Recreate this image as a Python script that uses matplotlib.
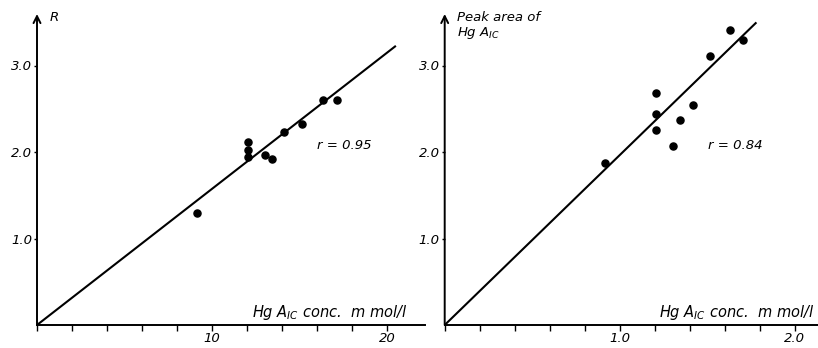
import matplotlib
matplotlib.use("Agg")
import matplotlib.pyplot as plt

# Datos
r_x = [9.13, 12.07, 12.07, 12.07, 13.03, 13.41, 14.11, 15.12, 16.32, 17.16]
r_y = [1.29, 2.12, 2.02, 1.94, 1.97, 1.92, 2.23, 2.32, 2.60, 2.60]
r_fit_x = [0, 20.46]
r_fit_y = [0, 3.22]

pk_x = [0.918, 1.209, 1.209, 1.209, 1.305, 1.343, 1.421, 1.514, 1.630, 1.705]
pk_y = [1.87, 2.68, 2.44, 2.25, 2.07, 2.37, 2.54, 3.11, 3.41, 3.29]
pk_fit_x = [0, 1.777]
pk_fit_y = [0, 3.49]

x_ticks_left = [0, 2, 4, 6, 8, 10, 12, 14, 16, 18, 20]
x_labels_left = ['', '', '', '', '', '10', '', '', '', '', '20']
x_ticks_right = [0, 0.2, 0.4, 0.6, 0.8, 1.0, 1.2, 1.4, 1.6, 1.8, 2.0]
x_labels_right = ['', '', '', '', '', '1.0', '', '', '', '', '2.0']
y_ticks = [1.0, 2.0, 3.0]
y_labels = ['1.0', '2.0', '3.0']

plt.rcParams['mathtext.fontset'] = 'dejavusans'

W, H = 818, 348
fig = plt.figure(figsize=(W / 100, H / 100), dpi=100)

y0_px, ytop_px = 325, 14
ymax = (y0_px - ytop_px) / 86.5


def panel(left_px, right_px, px_per_unit, xs, ys, fx, fy, xt, xl, rtxt, rpos, ylab, xlab_right):
    ax = fig.add_axes([left_px / W, (H - y0_px) / H,
                       (right_px - left_px) / W, (y0_px - ytop_px) / H])
    ax.set_xlim(0, (right_px - left_px) / px_per_unit)
    ax.set_ylim(0, ymax)
    for s in ['top', 'right', 'left']:
        ax.spines[s].set_visible(False)
    ax.spines['bottom'].set_linewidth(1.4)
    # eje y con flecha
    ax.annotate('', xy=(0, ymax), xytext=(0, 0),
                arrowprops=dict(arrowstyle='->,head_length=0.5,head_width=0.25',
                                lw=1.4, color='black', shrinkA=0, shrinkB=0),
                annotation_clip=False)
    ax.plot(fx, fy, color='black', lw=1.5)
    ax.scatter(xs, ys, s=26, color='black', zorder=3)
    ax.set_xticks(xt)
    ax.set_xticklabels(xl, style='italic', fontsize=9.5)
    ax.set_yticks(y_ticks)
    ax.set_yticklabels(y_labels, style='italic', fontsize=9.5)
    ax.tick_params(axis='x', direction='out', length=4, width=1, pad=1)
    ax.tick_params(axis='y', direction='out', length=2.5, width=1, pad=1)
    ax.text(rpos[0], rpos[1], rtxt, style='italic', fontsize=9.5, va='center')
    ax.text(xlab_right, 0.01, r'Hg $A_{IC}$ conc.  m mol/l',
            transform=ax.transAxes, ha='right', va='bottom', style='italic', fontsize=10.5)
    ax.text(0.032, 1.01, ylab, transform=ax.transAxes,
            ha='left', va='top', style='italic', fontsize=9.5, linespacing=1.1)
    return ax


panel(37, 425, 17.5, r_x, r_y, r_fit_x, r_fit_y, x_ticks_left, x_labels_left,
      'r = 0.95', (16.0, 2.08), 'R', (408 - 37) / (425 - 37))
panel(444.7, 818, 175, pk_x, pk_y, pk_fit_x, pk_fit_y, x_ticks_right, x_labels_right,
      'r = 0.84', (1.505, 2.07), 'Peak area of\nHg $A_{IC}$', (815 - 444.7) / (818 - 444.7))

fig.savefig('out.png', dpi=100)
